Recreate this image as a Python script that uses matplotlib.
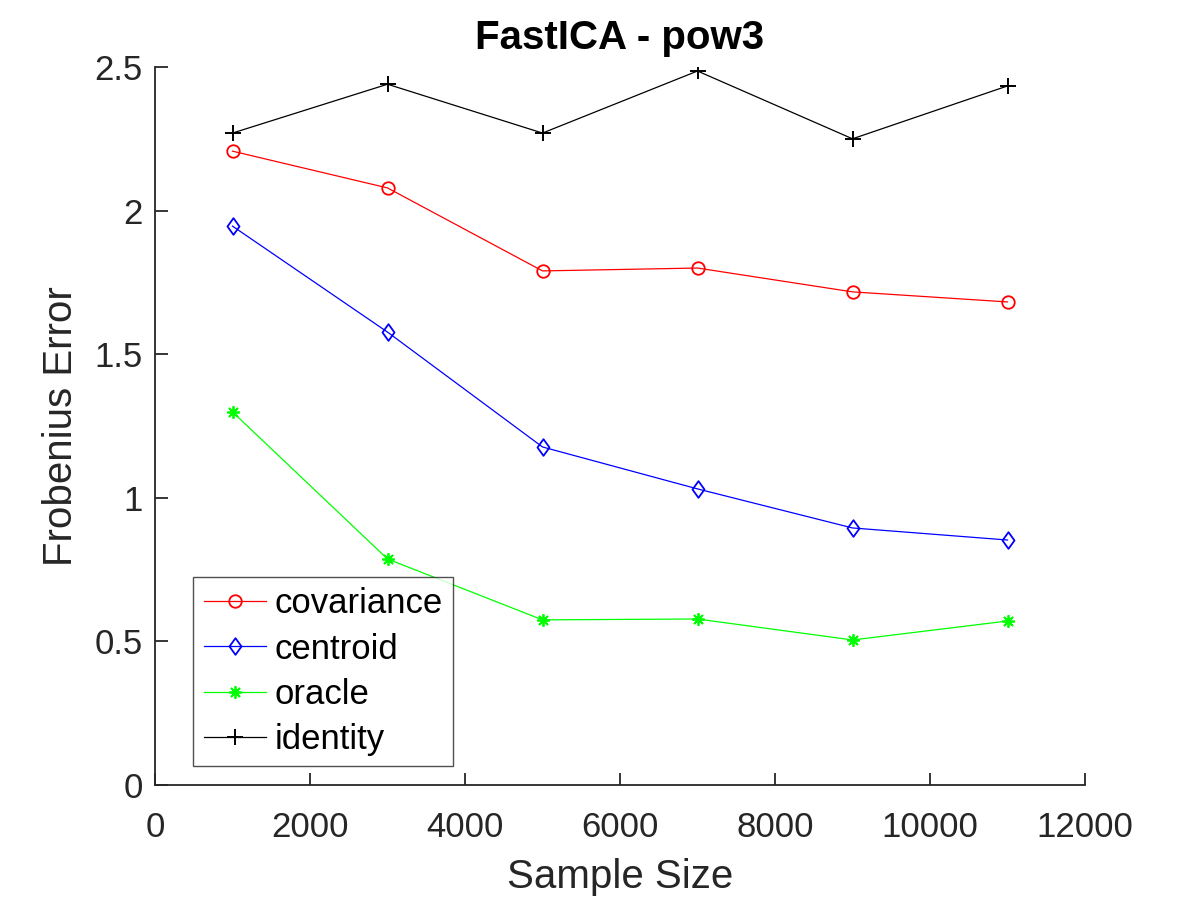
import matplotlib
matplotlib.use("Agg")
import matplotlib.pyplot as plt
from matplotlib.path import Path

plt.rcParams['font.family'] = ['Liberation Sans', 'DejaVu Sans']

sample_sizes = [1000, 3000, 5000, 7000, 9000, 11000]
covariance = [2.207, 2.079, 1.790, 1.800, 1.717, 1.682]
centroid = [1.946, 1.577, 1.177, 1.031, 0.895, 0.853]
oracle = [1.299, 0.787, 0.575, 0.578, 0.505, 0.571]
identity = [2.270, 2.440, 2.270, 2.486, 2.250, 2.434]

xticks = [0, 2000, 4000, 6000, 8000, 10000, 12000]
yticks = [0, 0.5, 1, 1.5, 2, 2.5]
ytick_labels = ['0', '0.5', '1', '1.5', '2', '2.5']

diamond = Path([(0, 1), (0.72, 0), (0, -1), (-0.72, 0), (0, 1)],
               [Path.MOVETO, Path.LINETO, Path.LINETO, Path.LINETO, Path.CLOSEPOLY])

fig = plt.figure(figsize=(12, 9), dpi=100)
ax = fig.add_axes([155/1200, 115/900, 930/1200, 718/900])

axcol = '#262626'
lw = 0.9
ax.plot(sample_sizes, covariance, color='red', lw=lw, marker='o', ms=9,
        mfc='none', mew=1.3, label='covariance')
ax.plot(sample_sizes, centroid, color='blue', lw=lw, marker=diamond, ms=12,
        mfc='none', mew=1.3, label='centroid')
ax.plot(sample_sizes, oracle, color='#00ff00', lw=lw, marker=(8, 2, 0), ms=9,
        mew=1.3, label='oracle')
ax.plot(sample_sizes, identity, color='black', lw=lw, marker='+', ms=11,
        mew=1.4, label='identity')

ax.set_xlim(0, 12000)
ax.set_ylim(0, 2.5)
ax.set_xticks(xticks)
ax.set_xticklabels([str(v) for v in xticks])
ax.set_yticks(yticks)
ax.set_yticklabels(ytick_labels)

for s in ['top', 'right']:
    ax.spines[s].set_visible(False)
for s in ['left', 'bottom']:
    ax.spines[s].set_color(axcol)
    ax.spines[s].set_linewidth(1.3)
ax.tick_params(direction='in', length=9, width=1.3, colors=axcol,
               labelsize=25, pad=9)
ax.tick_params(axis='x', pad=19)

ax.set_xlabel('Sample Size', fontsize=29, color=axcol, labelpad=10)
ax.set_ylabel('Frobenius Error', fontsize=29, color=axcol, labelpad=10)
ax.set_title('FastICA - pow3', fontsize=29, fontweight='bold', pad=13)

leg = ax.legend(loc='lower left', bbox_to_anchor=(0.041, 0.026), fontsize=25,
                frameon=True, fancybox=False, borderpad=0.3, labelspacing=0.35,
                handlelength=1.8, handletextpad=0.25, borderaxespad=0)
leg.get_frame().set_edgecolor(axcol)
leg.get_frame().set_linewidth(1.0)

fig.savefig('out.png', dpi=100, facecolor='white')
